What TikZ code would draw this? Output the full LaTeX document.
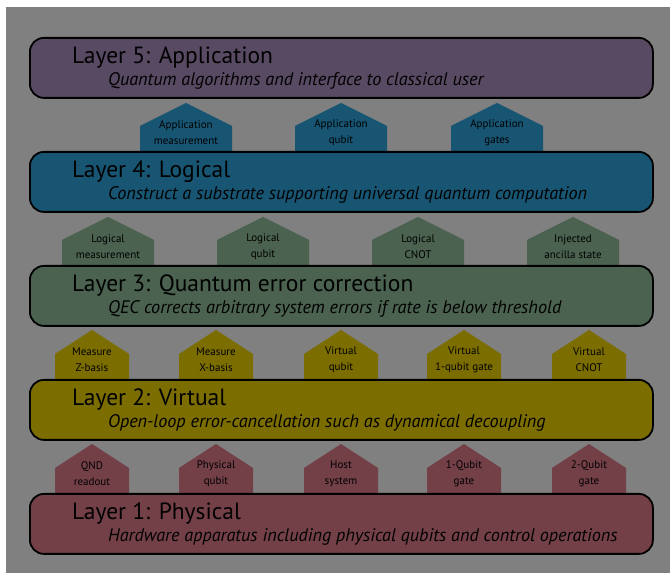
\documentclass[tikz,border=0pt]{standalone}
\usepackage{fontspec}
\setmainfont{PT Sans}
\usetikzlibrary{calc}

\definecolor{bggray}{RGB}{128,128,128}
\definecolor{appcol}{RGB}{88,74,99}
\definecolor{logcol}{RGB}{23,85,115}
\definecolor{qeccol}{RGB}{74,98,79}
\definecolor{virtcol}{RGB}{124,109,0}
\definecolor{physcol}{RGB}{115,64,72}

\begin{document}
\begin{tikzpicture}[x=1pt,y=1pt,
        layer/.style={draw=black,line width=1.8pt,rounded corners=14pt,
                minimum width=623pt,minimum height=60pt,inner sep=0pt,anchor=north west},
        title/.style={anchor=west,inner sep=0pt,font=\fontsize{23.5}{26}\selectfont},
        subtitle/.style={anchor=west,inner sep=0pt,font=\fontsize{18.2}{21}\selectfont\itshape},
        tag/.style={align=center,inner sep=0pt,font=\fontsize{11}{16}\selectfont}]
        \useasboundingbox (0,0) rectangle (670,573);

        % the page and the gray panel
        \fill[white] (0,0) rectangle (670,573);
        \fill[bggray] (6,0) rectangle (670,566);

        % tags sitting on top of each layer
        \foreach \cx/\txt [count=\i] in {
            186/{Application\\measurement},
            341/{Application\\qubit},
            497/{Application\\gates}} {
                \fill[logcol] (\cx-46,422) -- (\cx-46,447) -- (\cx,470) -- (\cx+46,447) -- (\cx+46,422) -- cycle;
                \node[tag] (a\i) at (\cx,440) {\txt};
        }
        \foreach \cx/\txt [count=\i] in {
            108/{Logical\\measurement},
            263/{Logical\\qubit},
            418/{Logical\\CNOT},
            573/{Injected\\ancilla state}} {
                \fill[qeccol] (\cx-46,308) -- (\cx-46,333) -- (\cx,356) -- (\cx+46,333) -- (\cx+46,308) -- cycle;
                \node[tag] (g\i) at (\cx,326) {\txt};
        }
        \foreach \cx/\txt [count=\i] in {
            92/{Measure\\Z-basis},
            216/{Measure\\X-basis},
            341/{Virtual\\qubit},
            464/{Virtual\\1-qubit gate},
            589/{Virtual\\CNOT}} {
                \fill[virtcol] (\cx-37,194) -- (\cx-37,219) -- (\cx,243) -- (\cx+37,219) -- (\cx+37,194) -- cycle;
                \node[tag] (v\i) at (\cx,213) {\txt};
        }
        \foreach \cx/\txt [count=\i] in {
            92/{QND\\readout},
            216/{Physical\\qubit},
            341/{Host\\system},
            464/{1-Qubit\\gate},
            589/{2-Qubit\\gate}} {
                \fill[physcol] (\cx-37,80) -- (\cx-37,105) -- (\cx,129) -- (\cx+37,105) -- (\cx+37,80) -- cycle;
                \node[tag] (p\i) at (\cx,99) {\txt};
        }

        % the five layers
        \foreach \y/\col/\name/\ttl/\sub in {
            536/appcol/l5/{Layer 5: Application}/{Quantum algorithms and interface to classical user},
            422/logcol/l4/{Layer 4: Logical}/{Construct a substrate supporting universal quantum computation},
            308/qeccol/l3/{Layer 3: Quantum error correction}/{QEC corrects arbitrary system errors if rate is below threshold},
            194/virtcol/l2/{Layer 2: Virtual}/{Open-loop error-cancellation such as dynamical decoupling},
            80/physcol/l1/{Layer 1: Physical}/{Hardware apparatus including physical qubits and control operations}} {
                \node[layer,fill=\col] (\name) at (29,\y) {};
                \node[title] (\name-title) at ($(\name.north west)+(43,-21)$) {\ttl};
                \node[subtitle] (\name-sub) at ($(\name.north west)+(79,-44)$) {\sub};
        }
\end{tikzpicture}
\end{document}
